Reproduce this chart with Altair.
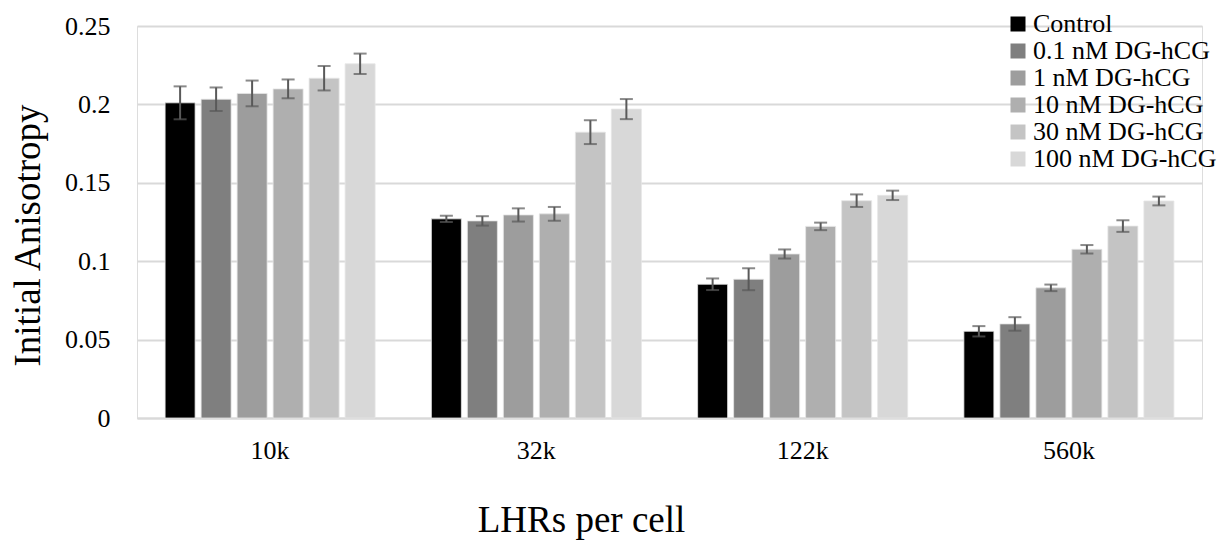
import altair as alt
import pandas as pd

categories = ["10k", "32k", "122k", "560k"]
series = ["Control", "0.1 nM DG-hCG", "1 nM DG-hCG", "10 nM DG-hCG", "30 nM DG-hCG", "100 nM DG-hCG"]
colors = ["#000000", "#7f7f7f", "#9d9d9d", "#afafaf", "#c4c4c4", "#d8d8d8"]

control = [0.2010, 0.1270, 0.0853, 0.0553]
nm0_1 = [0.2033, 0.1257, 0.0885, 0.0600]
nm1 = [0.2070, 0.1295, 0.1046, 0.0830]
nm10 = [0.2099, 0.1302, 0.1222, 0.1076]
nm30 = [0.2167, 0.1823, 0.1386, 0.1224]
nm100 = [0.2259, 0.1970, 0.1420, 0.1384]

err_control = [0.0105, 0.0020, 0.0037, 0.0033]
err_nm0_1 = [0.0075, 0.0030, 0.0070, 0.0043]
err_nm1 = [0.0082, 0.0042, 0.0029, 0.0021]
err_nm10 = [0.0060, 0.0044, 0.0024, 0.0027]
err_nm30 = [0.0078, 0.0076, 0.0040, 0.0037]
err_nm100 = [0.0065, 0.0064, 0.0030, 0.0028]

values = [control, nm0_1, nm1, nm10, nm30, nm100]
errors = [err_control, err_nm0_1, err_nm1, err_nm10, err_nm30, err_nm100]

rows = []
for s, vals, errs in zip(series, values, errors):
    for c, v, e in zip(categories, vals, errs):
        rows.append({"cat": c, "series": s, "value": v, "lo": v - e, "hi": v + e})
df = pd.DataFrame(rows)

FONT = "Liberation Serif"

x_enc = alt.X(
    "cat:N",
    sort=categories,
    scale=alt.Scale(paddingInner=0.1887, paddingOuter=0.0943),
    axis=alt.Axis(
        title="LHRs per cell",
        labelAngle=0,
        labelFont=FONT,
        labelFontSize=26,
        labelColor="#000000",
        labelPadding=19,
        ticks=False,
        domainColor="#d9d9d9",
        domainWidth=2,
        titleFont=FONT,
        titleFontSize=37,
        titleFontWeight="normal",
        titleColor="#000000",
        titleX=444,
        titleY=102,
        titleAlign="center",
        titleBaseline="middle",
        grid=False,
    ),
)
xoff = alt.XOffset(
    "series:N",
    sort=series,
    scale=alt.Scale(paddingInner=0.1667, paddingOuter=0.0833),
)

base = alt.Chart(df).encode(x=x_enc, xOffset=xoff)

bars = base.mark_bar(stroke="#e6e6e6", strokeWidth=0.8).encode(
    y=alt.Y(
        "value:Q",
        scale=alt.Scale(domain=[0, 0.25], nice=False),
        axis=alt.Axis(
            title="Initial Anisotropy",
            values=[0, 0.05, 0.1, 0.15, 0.2, 0.25],
            format="~g",
            labelFont=FONT,
            labelFontSize=26,
            labelColor="#000000",
            labelPadding=27,
            ticks=False,
            domain=False,
            grid=True,
            gridColor="#d9d9d9",
            gridWidth=2,
            titleFont=FONT,
            titleFontSize=37,
            titleFontWeight="normal",
            titleColor="#000000",
            titleX=-109,
            titleY=209,
            titleAngle=270,
            titleAlign="center",
            titleBaseline="middle",
        ),
    ),
    color=alt.Color(
        "series:N",
        sort=series,
        scale=alt.Scale(domain=series, range=colors),
        legend=alt.Legend(
            title=None,
            orient="none",
            legendX=868,
            legendY=-15,
            symbolType="square",
            symbolSize=225,
            symbolStrokeWidth=0,
            symbolOpacity=1,
            labelFont=FONT,
            labelFontSize=26,
            labelColor="#000000",
            labelLimit=400,
            labelOffset=2,
            rowPadding=1,
        ),
    ),
)

rules = base.mark_rule(color="#595959", strokeWidth=2).encode(
    y="lo:Q", y2="hi:Q"
)
cap_lo = base.mark_tick(color="#595959", size=13, thickness=2).encode(y="lo:Q")
cap_hi = base.mark_tick(color="#595959", size=13, thickness=2).encode(y="hi:Q")

chart = (
    alt.layer(bars, rules, cap_lo, cap_hi)
    .properties(
        width=1065,
        height=392,
        autosize=alt.AutoSizeParams(type="none"),
        padding={"left": 137, "top": 26, "right": 22, "bottom": 122},
    )
    .configure_view(stroke=None)
    .configure(background="#ffffff")
)

chart.save("out.html", embed_options={"renderer": "svg", "actions": False})
